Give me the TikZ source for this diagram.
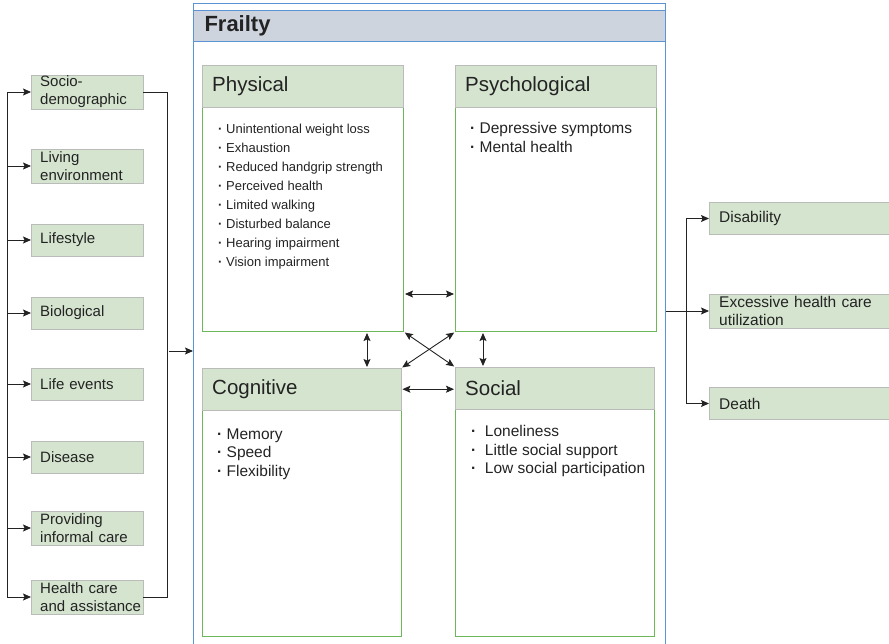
\documentclass[tikz,border=0pt]{standalone}
\usepackage{fontspec}
\setmainfont{Liberation Sans}
\usepackage{tikz}
\usetikzlibrary{arrows.meta,positioning,calc}
\definecolor{paleGreen}{RGB}{213,228,207}
\definecolor{boxGray}{RGB}{185,188,185}
\definecolor{bodyGreen}{RGB}{108,184,88}
\definecolor{frameBlue}{RGB}{90,148,212}
\definecolor{headBlue}{RGB}{205,212,222}
\definecolor{inkGray}{RGB}{35,35,35}

\begin{document}
\begin{tikzpicture}[
  x=1pt, y=-1pt,
  factor/.style={draw=boxGray, fill=paleGreen, anchor=west, minimum height=34pt, inner xsep=9pt, inner ysep=0pt, text width=94pt, align=left, text=inkGray, font=\fontsize{15}{18}\selectfont},
  outcome/.style={draw=boxGray, fill=paleGreen, anchor=west, minimum height=32pt, inner xsep=10pt, inner ysep=0pt, text width=166pt, align=left, text=inkGray, font=\fontsize{15.5}{18}\selectfont},
  domhead/.style={draw=boxGray, fill=paleGreen, anchor=north west, minimum height=42pt, inner xsep=10pt, text width=181pt, align=left, text=inkGray, font=\fontsize{20.5}{24}\selectfont},
  dombody/.style={draw=bodyGreen, line width=1pt, anchor=north west, minimum width=201pt, inner sep=0pt},
  items/.style={anchor=north west, inner sep=0pt, align=left, text=inkGray},
  flow/.style={draw=inkGray, line width=0.9pt},
  link/.style={draw=inkGray, line width=0.9pt, <->, shorten <=1pt, shorten >=1pt},
  >={Stealth[length=8pt, width=7pt, inset=1.5pt]}
]
\useasboundingbox (0,0) rectangle (889,643);

% Frailty frame
\node[draw=frameBlue, line width=1.3pt, minimum width=472pt, minimum height=665pt, anchor=north west, inner sep=0pt] (frailty) at (193,3) {};
\node[draw=frameBlue, fill=headBlue, line width=1pt, anchor=north west, minimum height=31pt, inner xsep=11pt, inner ysep=0pt, text width=450pt, align=left, text=inkGray, font=\fontsize{22}{26}\selectfont\bfseries] (frailtyhead) at (193,10) {Frailty};

% Domains
\node[dombody, minimum height=224pt] (physbody) at (202,107) {};
\node[domhead] (physhead) at (202,65) {Physical};
\node[items, font=\fontsize{13}{19}\selectfont] (physitems) at (218,123.5) {\textbf{·}\ Unintentional weight loss\\\textbf{·}\ Exhaustion\\\textbf{·}\ Reduced handgrip strength\\\textbf{·}\ Perceived health\\\textbf{·}\ Limited walking\\\textbf{·}\ Disturbed balance\\\textbf{·}\ Hearing impairment\\\textbf{·}\ Vision impairment};

\node[dombody, minimum height=224pt] (psychbody) at (455,107) {};
\node[domhead] (psychhead) at (455,65) {Psychological};
\node[items, font=\fontsize{15.5}{19}\selectfont] (psychitems) at (470,122) {\textbf{·}\ Depressive symptoms\\\textbf{·}\ Mental health};

\node[dombody, minimum width=199pt, minimum height=226pt] (cogbody) at (202,410) {};
\node[domhead, text width=179pt] (coghead) at (202,368) {Cognitive};
\node[items, font=\fontsize{15.5}{18.5}\selectfont] (cogitems) at (217,428.5) {\textbf{·}\ Memory\\\textbf{·}\ Speed\\\textbf{·}\ Flexibility};

\node[dombody, minimum width=199pt, minimum height=227pt] (socialbody) at (455,409) {};
\node[domhead, text width=179pt] (socialhead) at (455,367) {Social};
\node[items, font=\fontsize{15.5}{18.5}\selectfont] (socialitems) at (471,425.5) {\textbf{·}\ \ Loneliness\\\textbf{·}\ \ Little social support\\\textbf{·}\ \ Low social participation};

% Determinants
\node[factor, minimum width=112pt] (socio) at (31,92) {Socio-\\demographic};
\node[factor, minimum width=112pt] (living) at (31,166) {Living\\environment};
\node[factor, minimum width=112pt, minimum height=32pt] (lifestyle) at (31,240) {Lifestyle};
\node[factor, minimum width=112pt, minimum height=32pt] (bio) at (31,313) {Biological};
\node[factor, minimum width=112pt, minimum height=32pt] (events) at (31,384) {Life events};
\node[factor, minimum width=112pt, minimum height=32pt] (disease) at (31,457) {Disease};
\node[factor, minimum width=112pt] (informal) at (31,528) {Providing\\informal care};
\node[factor, minimum width=112pt] (health) at (31,597) {Health care\\\mbox{and assistance}};

% Outcomes
\node[outcome, minimum width=186pt] (disab) at (709,218.5) {Disability};
\node[outcome, minimum width=186pt, minimum height=34pt] (excess) at (709,311) {Excessive health care\\utilization};
\node[outcome, minimum width=186pt] (death) at (709,403.5) {Death};

% Left bracket
\coordinate (lspine) at (7,92);
\draw[flow, ->] (lspine) |- (socio.west);
\draw[flow, ->] (lspine) |- (living.west);
\draw[flow, ->] (lspine) |- (lifestyle.west);
\draw[flow, ->] (lspine) |- (bio.west);
\draw[flow, ->] (lspine) |- (events.west);
\draw[flow, ->] (lspine) |- (disease.west);
\draw[flow, ->] (lspine) |- (informal.west);
\draw[flow, ->] (lspine) |- (health.west);
\coordinate (rbrace) at (167,597);
\draw[flow] (socio.east) -| (rbrace) |- (health.east);
\coordinate (lmid) at (169,351);
\draw[flow, ->] (lmid) -- (lmid -| frailty.west);

% Right bracket
\coordinate (rjoint) at (686,311);
\draw[flow, ->] (frailty.east |- excess.west) -- (excess.west);
\draw[flow, ->] (rjoint) |- (disab.west);
\draw[flow, ->] (rjoint) |- (death.west);

% Links between domains
\coordinate (pp) at ($(physbody.south east)+(0,-38)$);
\draw[link] (pp) -- (pp -| psychbody.west);
\coordinate (pc) at ($(physbody.south west)+(165,0)$);
\draw[link] (pc) -- (pc |- coghead.north);
\coordinate (ps) at ($(psychbody.south west)+(28,0)$);
\draw[link] (ps) -- (ps |- socialhead.north);
\draw[link] (physbody.south east) -- (socialhead.north west);
\draw[link] (psychbody.south west) -- (coghead.north east);
\draw[link] (coghead.east) -- (coghead.east -| socialhead.west);

\end{tikzpicture}
\end{document}
